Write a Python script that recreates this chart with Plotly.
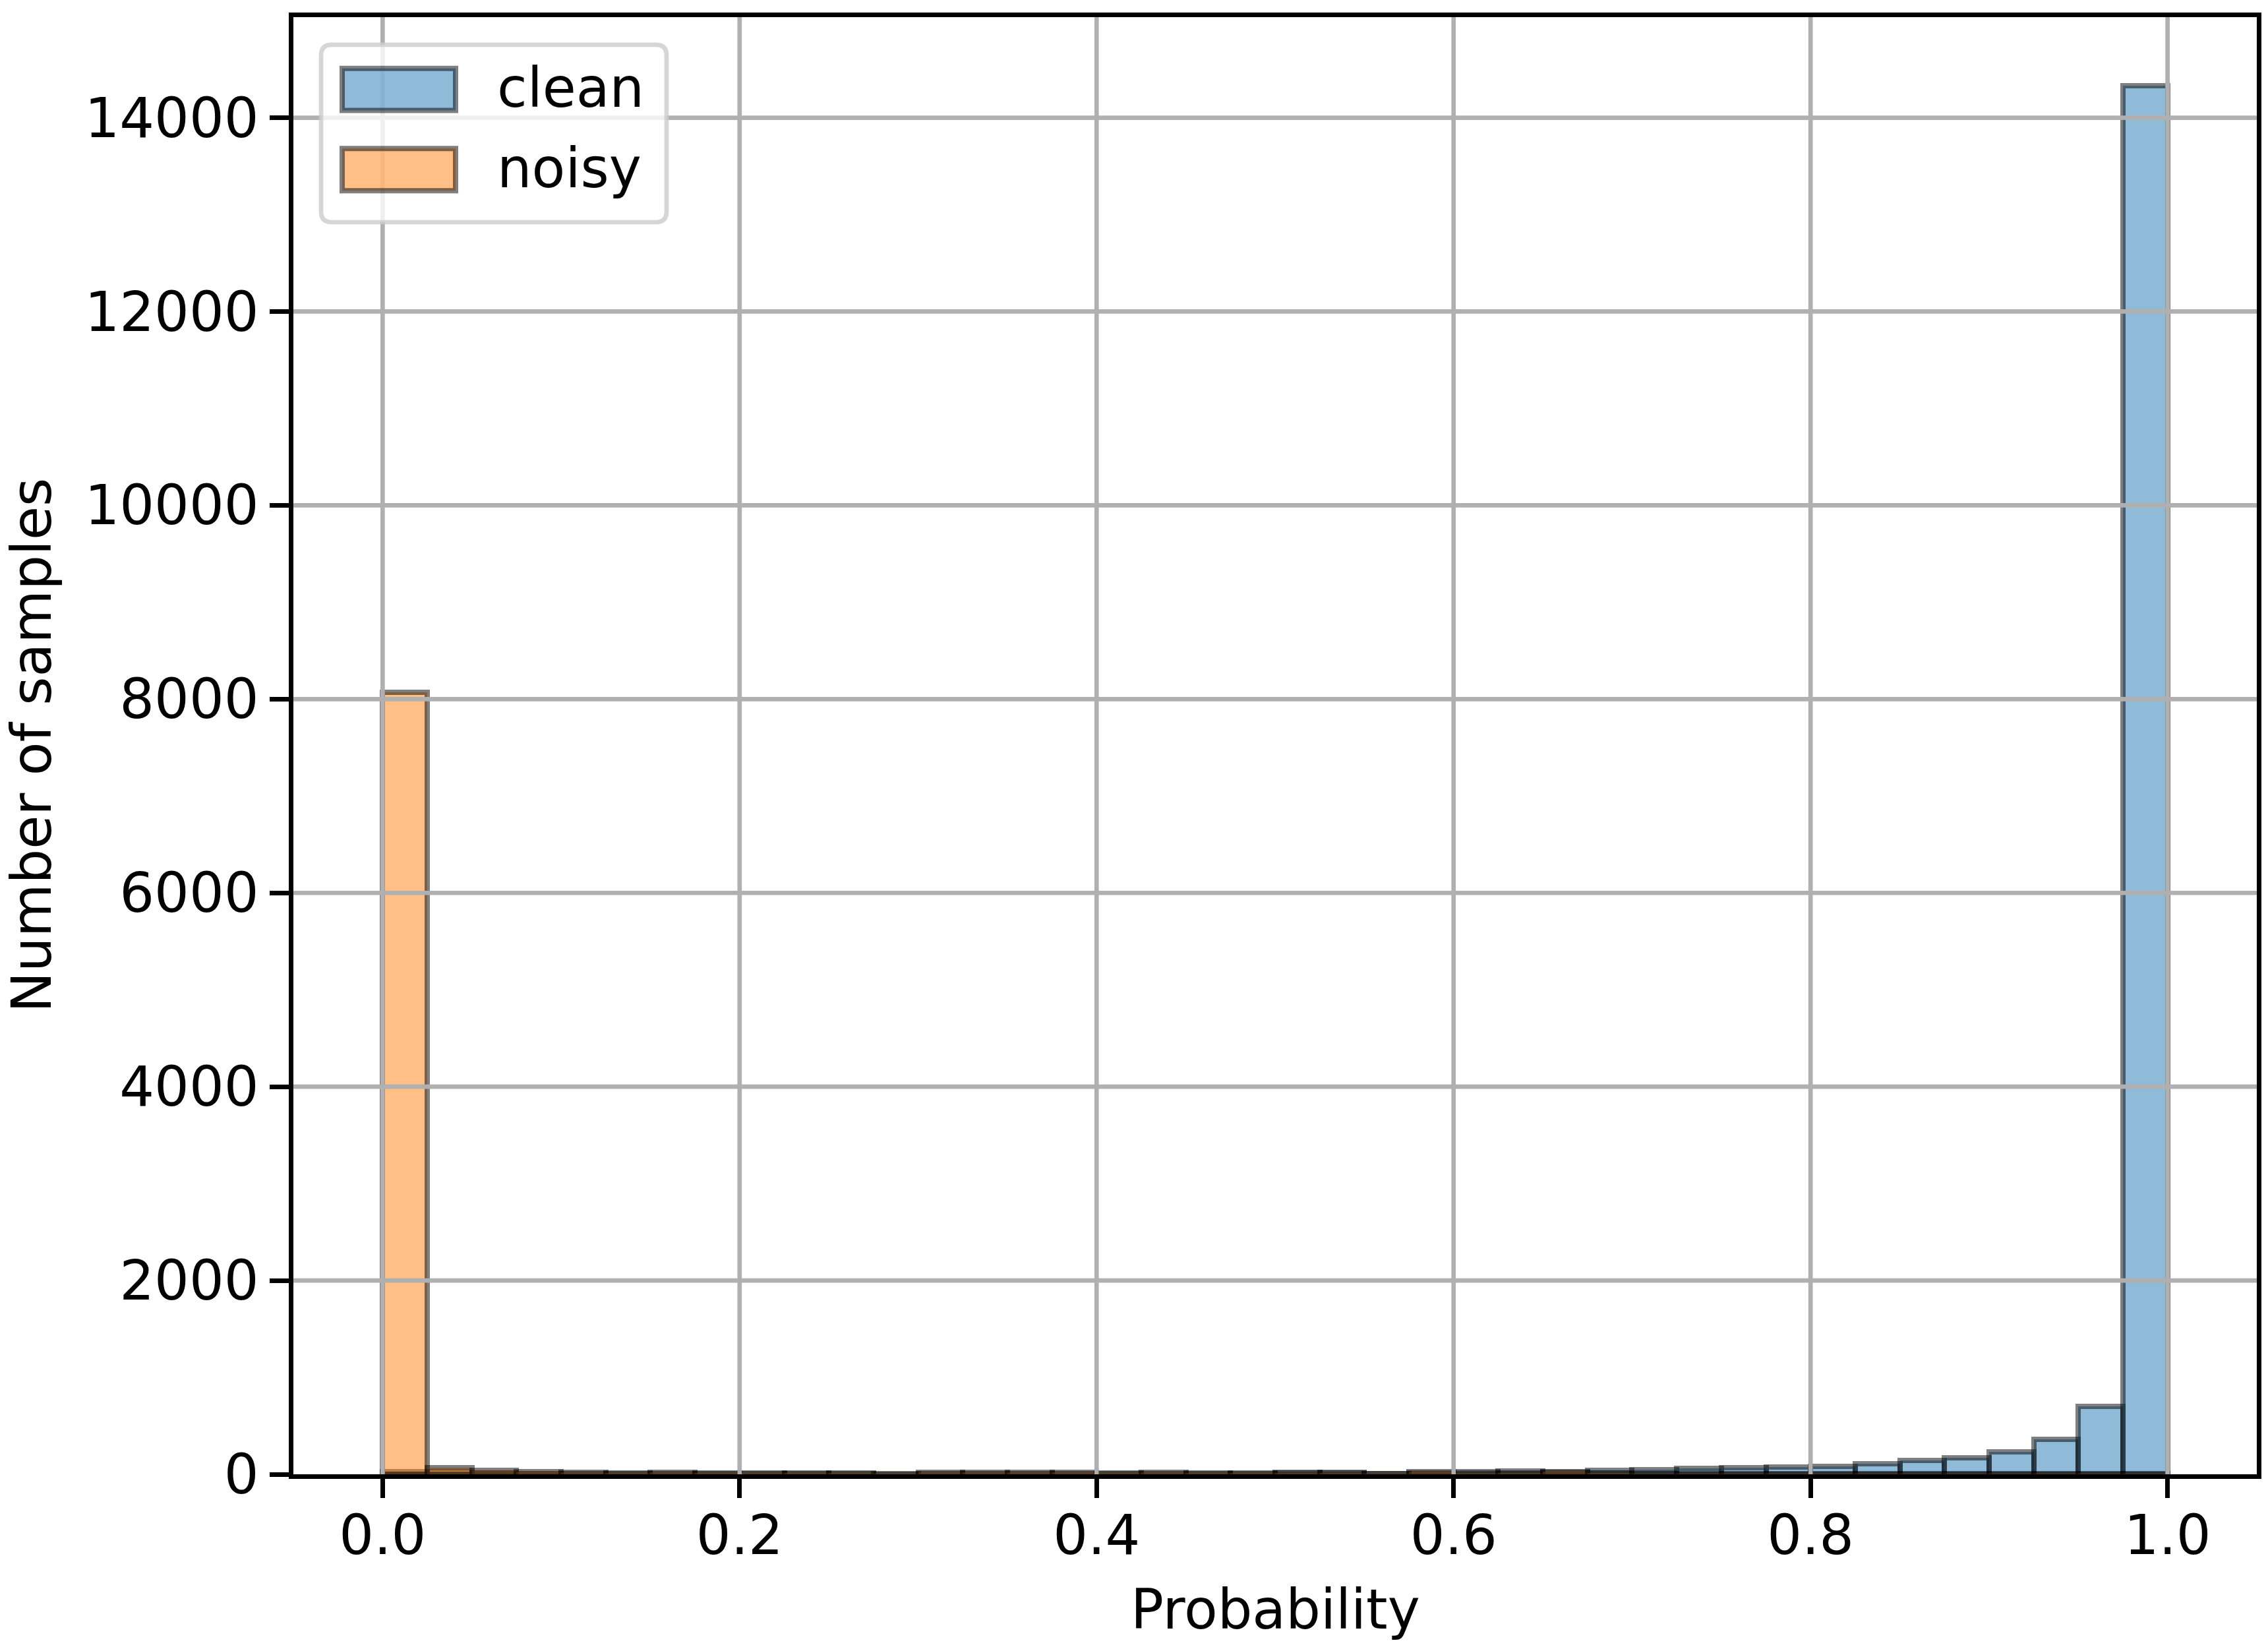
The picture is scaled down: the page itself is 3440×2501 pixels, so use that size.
"""Histogram of predicted probability for clean vs noisy samples."""

import plotly.graph_objects as go

# 40 equal bins on [0, 1]
BIN_WIDTH = 0.025
N_BINS = 40
BIN_CENTERS = [round((i + 0.5) * BIN_WIDTH, 4) for i in range(N_BINS)]

CLEAN_COUNTS = [
    28, 22, 12, 8, 6, 5, 6, 5,
    4, 6, 6, 3, 7, 7, 7, 8,
    7, 9, 10, 10, 18, 18, 10, 12,
    28, 35, 18, 40, 46, 60, 66, 73,
    82, 108, 142, 170, 230, 360, 700, 14330,
]
NOISY_COUNTS = [
    8070, 65, 38, 24, 19, 13, 18, 13,
    11, 16, 16, 7, 20, 20, 20, 20,
    16, 21, 17, 17, 12, 12, 6, 24,
    14, 15, 25, 12, 10, 9, 8, 7,
    6, 5, 5, 5, 4, 4, 5, 8,
]

X_TICKS = [0.0, 0.2, 0.4, 0.6, 0.8, 1.0]
Y_TICKS = [0, 2000, 4000, 6000, 8000, 10000, 12000, 14000]

SERIES = {
    "clean": ("rgba(31,119,180,0.5)", CLEAN_COUNTS),
    "noisy": ("rgba(255,127,14,0.5)", NOISY_COUNTS),
}

W, H = 3440, 2501
PAGE_OFFSET = 8  # body margin of the html page
# plot area in page pixels
P_LEFT, P_RIGHT, P_TOP, P_BOTTOM = 445, 3423, 19, 2236
PLOT_W = P_RIGHT - P_LEFT
PLOT_H = P_BOTTOM - P_TOP
FONT = "DejaVu Sans"
FS = 83
GRID = "#b0b0b0"
EDGE = "rgba(0,0,0,0.5)"


def px_x(px):
    return (px - P_LEFT) / PLOT_W


def px_y(py):
    return (P_BOTTOM - py) / PLOT_H


def rounded_box(x0, y0, x1, y1, r):
    """Rounded rectangle path in paper coords from pixel bounds."""
    rx, ry = r / PLOT_W, r / PLOT_H
    a, b, c, d = px_x(x0), px_y(y1), px_x(x1), px_y(y0)
    return (
        f"M{a + rx},{b} L{c - rx},{b} Q{c},{b} {c},{b + ry} "
        f"L{c},{d - ry} Q{c},{d} {c - rx},{d} L{a + rx},{d} "
        f"Q{a},{d} {a},{d - ry} L{a},{b + ry} Q{a},{b} {a + rx},{b} Z"
    )


fig = go.Figure()
for name, (color, counts) in SERIES.items():
    fig.add_trace(
        go.Bar(
            x=BIN_CENTERS,
            y=counts,
            width=BIN_WIDTH,
            name=name,
            marker=dict(color=color, line=dict(color=EDGE, width=8)),
            showlegend=False,
        )
    )

shapes = []
# matplotlib draws the grid over the bars
for xv in X_TICKS:
    shapes.append(dict(type="line", xref="x", yref="paper", x0=xv, x1=xv, y0=0, y1=1,
                       line=dict(color=GRID, width=6.7), layer="above"))
for yv in Y_TICKS[1:]:
    shapes.append(dict(type="line", xref="paper", yref="y", x0=0, x1=1, y0=yv, y1=yv,
                       line=dict(color=GRID, width=6.7), layer="above"))

# legend frame and patches
shapes.append(dict(type="path", xref="paper", yref="paper",
                   path=rounded_box(487, 61, 1011, 331, 16),
                   fillcolor="rgba(255,255,255,0.8)",
                   line=dict(color="rgba(204,204,204,0.8)", width=6.7), layer="above"))
annotations = []
for i, (name, (color, _)) in enumerate(SERIES.items()):
    top = 97 + i * 122
    shapes.append(dict(type="rect", xref="paper", yref="paper",
                       x0=px_x(519), x1=px_x(691), y0=px_y(top + 64), y1=px_y(top),
                       fillcolor=color, line=dict(color=EDGE, width=8), layer="above"))
    annotations.append(dict(text=name, xref="paper", yref="paper",
                            x=px_x(752), y=px_y(top + 30), xanchor="left", yanchor="middle",
                            showarrow=False, font=dict(family=FONT, size=FS, color="black")))

# axis titles
annotations.append(dict(text="Probability", xref="paper", yref="paper",
                        x=0.5, y=px_y(2442), xanchor="center", yanchor="middle",
                        showarrow=False, font=dict(family=FONT, size=FS, color="black")))
annotations.append(dict(text="Number of samples", xref="paper", yref="paper",
                        x=px_x(48), y=0.5, xanchor="center", yanchor="middle", textangle=-90,
                        showarrow=False, font=dict(family=FONT, size=FS, color="black")))

axis_style = dict(
    showgrid=False,
    zeroline=False,
    showline=True,
    linecolor="black",
    linewidth=6.7,
    mirror=True,
    ticks="outside",
    ticklen=29,
    tickwidth=6.7,
    tickcolor="black",
    layer="above traces",
)

fig.update_layout(
    width=W,
    height=H,
    barmode="overlay",
    bargap=0,
    plot_bgcolor="white",
    paper_bgcolor="white",
    font=dict(family=FONT, size=FS, color="black"),
    margin=dict(
        l=P_LEFT - PAGE_OFFSET,
        r=W - P_RIGHT + PAGE_OFFSET,
        t=P_TOP - PAGE_OFFSET,
        b=H - P_BOTTOM + PAGE_OFFSET,
    ),
    shapes=shapes,
    annotations=annotations,
    xaxis=dict(
        range=[-0.05, 1.05],
        tickvals=X_TICKS,
        ticktext=[f"{v:.1f}" for v in X_TICKS],
        ticklabelstandoff=-14,
        **axis_style,
    ),
    yaxis=dict(
        range=[0, 15038],
        tickvals=Y_TICKS,
        ticktext=[str(v) for v in Y_TICKS],
        **axis_style,
    ),
)

fig.write_html("out.html")
